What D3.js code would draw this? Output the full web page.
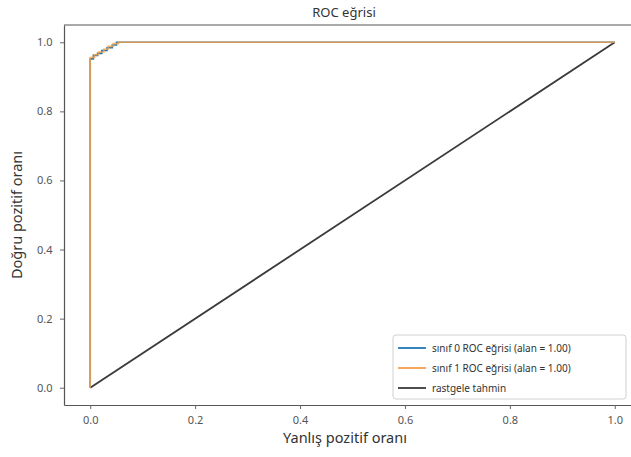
<!DOCTYPE html>
<html><head><meta charset="utf-8">
<script src="https://cdn.jsdelivr.net/npm/d3@7"></script>
<style>body{margin:0;background:#fff}svg{display:block}</style>
</head><body>
<script>
const title = "ROC eğrisi";
const xLabel = "Yanlış pozitif oranı";
const yLabel = "Doğru pozitif oranı";
const ticks = [0.0, 0.2, 0.4, 0.6, 0.8, 1.0];
const class0Fpr = [0, 0, 0.006, 0.006, 0.014, 0.014, 0.022, 0.022, 0.032, 0.032, 0.042, 0.042, 0.05, 0.05, 1];
const class0Tpr = [0, 0.952, 0.952, 0.962, 0.962, 0.968, 0.968, 0.976, 0.976, 0.984, 0.984, 0.992, 0.992, 1, 1];
const class1Fpr = [0, 0, 0.008, 0.008, 0.016, 0.016, 0.026, 0.026, 0.034, 0.034, 0.044, 0.044, 0.054, 0.054, 1];
const class1Tpr = [0, 0.956, 0.956, 0.964, 0.964, 0.972, 0.972, 0.98, 0.98, 0.988, 0.988, 0.996, 0.996, 1, 1];
const randomX = [0, 1];
const randomY = [0, 1];
const legendLabels = ["sınıf 0 ROC eğrisi (alan = 1.00)", "sınıf 1 ROC eğrisi (alan = 1.00)", "rastgele tahmin"];
const colors = ["#1f77b4", "#f5a04a", "#3a3a3a"];

const W = 631, H = 457;
const svg = d3.select("body").append("svg").attr("width", W).attr("height", H);
const font = "'Noto Sans', 'Open Sans', sans-serif";
const x = d3.scaleLinear().domain([-0.05, 1.05]).range([64, 641]);
const y = d3.scaleLinear().domain([-0.05, 1.05]).range([405, 25]);

const line = d3.line().x(d => x(d[0])).y(d => y(d[1]));
const series = [
  d3.zip(class0Fpr, class0Tpr),
  d3.zip(class1Fpr, class1Tpr)
];
// diagonal
svg.append("path").datum(d3.zip(randomX, randomY)).attr("d", line)
  .attr("fill", "none").attr("stroke", colors[2]).attr("stroke-width", 1.8);
svg.append("path").datum(series[0]).attr("d", line)
  .attr("fill", "none").attr("stroke", colors[0]).attr("stroke-width", 1.6);
svg.append("path").datum(series[1]).attr("d", line)
  .attr("fill", "none").attr("stroke", colors[1]).attr("stroke-width", 1.6).attr("stroke-opacity", 0.85);

// axes
const xAxis = svg.append("g").attr("transform", `translate(0,${y(-0.05)})`)
  .call(d3.axisBottom(x).tickValues(ticks).tickFormat(d3.format(".1f")).tickSize(4).tickSizeOuter(0));
const yAxis = svg.append("g").attr("transform", `translate(${x(-0.05)},0)`)
  .call(d3.axisLeft(y).tickValues(ticks).tickFormat(d3.format(".1f")).tickSize(4).tickSizeOuter(0));
[xAxis, yAxis].forEach(g => {
  g.select(".domain").attr("stroke", "#555").attr("stroke-width", 1.2);
  g.selectAll(".tick line").attr("stroke", "#666");
  g.selectAll(".tick text").attr("fill", "#555").style("font-family", font).style("font-size", "11px");
});
xAxis.selectAll(".tick text").attr("dy", "1.1em");
yAxis.selectAll(".tick text").attr("dx", "-0.4em");
// top frame
svg.append("line").attr("x1", x(-0.05)).attr("x2", W).attr("y1", y(1.05)).attr("y2", y(1.05))
  .attr("stroke", "#555").attr("stroke-width", 1.2);

svg.append("text").attr("x", 344).attr("y", 17).attr("text-anchor", "middle")
  .style("font-family", font).style("font-size", "13px").attr("fill", "#333").text(title);
svg.append("text").attr("x", 345).attr("y", 443).attr("text-anchor", "middle")
  .style("font-family", font).style("font-size", "14.5px").attr("fill", "#333").text(xLabel);
svg.append("text").attr("transform", `translate(22,${y(0.5)}) rotate(-90)`).attr("text-anchor", "middle")
  .style("font-family", font).style("font-size", "14.5px").attr("fill", "#333").text(yLabel);

// legend
const lg = svg.append("g");
lg.append("rect").attr("x", 393).attr("y", 335).attr("width", 233).attr("height", 64).attr("rx", 3)
  .attr("fill", "#fff").attr("fill-opacity", 0.9).attr("stroke", "#d0d0d0");
legendLabels.forEach((t, i) => {
  const yy = 348 + i * 20;
  lg.append("line").attr("x1", 398).attr("x2", 426).attr("y1", yy).attr("y2", yy)
    .attr("stroke", colors[i]).attr("stroke-width", 1.8);
  lg.append("text").attr("x", 432).attr("y", yy + 3.5).style("font-family", font)
    .style("font-size", "10px").attr("fill", "#333").text(t);
});
</script>
</body></html>
